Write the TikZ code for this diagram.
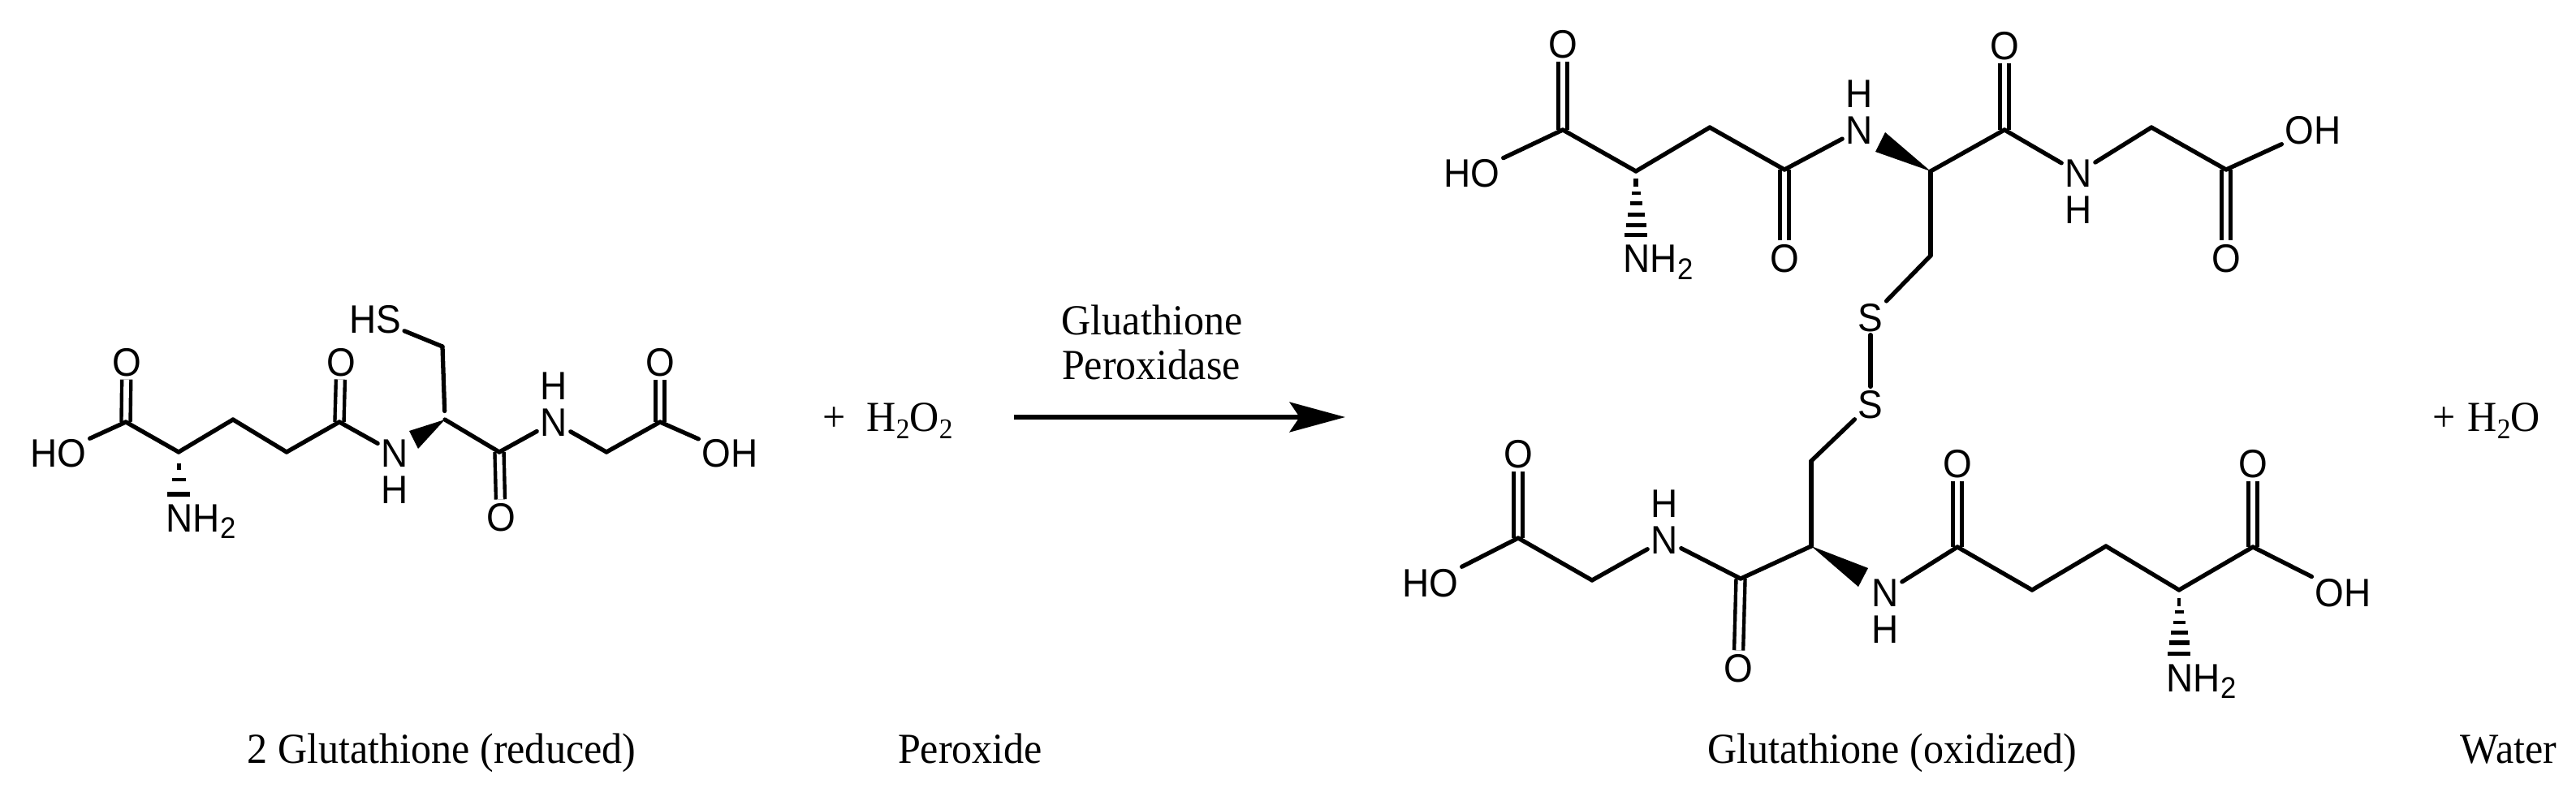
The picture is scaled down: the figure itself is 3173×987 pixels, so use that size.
\documentclass[tikz,border=0pt]{standalone}
\usepackage{fontspec}
\setmainfont[FakeStretch=0.95]{Liberation Serif}
\newfontfamily\atomfont[FakeStretch=0.94]{Liberation Sans}
\usepackage{tikz}
\usetikzlibrary{calc, positioning, arrows.meta}
\newcommand{\atomsub}{{\fontsize{10.5}{10}\selectfont\raisebox{-2.3pt}{2}}}
\newcommand{\textsub}{{\fontsize{10}{10}\selectfont\raisebox{-2.3pt}{2}}}

\begin{document}
\begin{tikzpicture}[x=0.1mm, y=-0.1mm, line cap=round, >=Stealth]
\tikzstyle{atom}=[inner sep=1pt,text height=9.9pt,text depth=0pt,font=\atomfont\fontsize{13.9}{15}\selectfont]
\tikzstyle{amine}=[inner sep=0pt,anchor=base west,font=\atomfont\fontsize{13.9}{15}\selectfont]
\tikzstyle{label}=[inner sep=0pt,anchor=base,font=\fontsize{15}{15.6}\selectfont]
\tikzstyle{bond}=[line width=1.5pt]
\tikzstyle{dbond}=[line width=1.25pt,double,double distance=1.9pt,line cap=butt]
\useasboundingbox (0,0) rectangle (3173,987);

% left molecule
\coordinate (la) at (155,520);
\coordinate (lb) at (220,557);
\coordinate (lc) at (287,517);
\coordinate (ld) at (353,557);
\coordinate (le) at (418,520);
\coordinate (lf) at (548,517);
\coordinate (lg) at (545,427);
\coordinate (lh) at (615,557);
\coordinate (li) at (747,557);
\coordinate (lj) at (813,520);
\coordinate (lwa) at (504,531);
\coordinate (lwb) at (515,553);
\node[atom] (lo1) at (156,446) {O};
\node[atom] (lo2) at (420,446) {O};
\node[atom] (lo3) at (617,637) {O};
\node[atom] (lo4) at (813,446) {O};
\node[atom] (lho) at (72,558) {HO};
\node[atom] (loh) at (899,558) {OH};
\node[atom] (lhs) at (462,393) {HS};
\node[atom] (ln1) at (486,558) {N};
\node[atom] (lh1)[below=0.5pt of ln1] {H};
\node[atom] (ln2) at (682,520) {N};
\node[atom] (lh2)[above=0.5pt of ln2] {H};
\node[amine] (lnh) at (204,655) {NH\atomsub};
\path
(la) edge[dbond] (lo1)
(le) edge[dbond] (lo2)
(lh) edge[dbond] (lo3)
(lj) edge[dbond] (lo4);
\path[bond]
(lho) edge (la)
(la) edge (lb)
(lb) edge (lc)
(lc) edge (ld)
(ld) edge (le)
(le) edge (ln1)
(lg) edge[shorten >=3pt] (lf)
(lg) edge (lhs)
(lf) edge (lh)
(lh) edge (ln2)
(ln2) edge (li)
(li) edge (lj)
(lj) edge (loh);
\fill (lf) -- (lwa) -- (lwb) -- cycle;
\foreach \d/\w/\h in {14/5/8,32/17/4,49/28/6}
    \fill ($(lb)+(-\w/2,\d)$) rectangle ++(\w,\h);

% reaction
\node[label] (plusa) at (1028,532) {+};
\node[label,anchor=base west] (peroxide) at (1067,532) {H\textsub O\textsub};
\coordinate (start) at (1249,514);
\coordinate (stop) at (1657,514);
\draw[->,line width=1.45pt,>={Stealth[length=19.5pt,width=10.5pt,inset=3.5pt]},line cap=butt] (start) -- (stop);
\node[label] (enza) at (1419,413) {Gluathione};
\node[label] (enzb) at (1418,468) {Peroxidase};

% upper half of oxidized molecule
\coordinate (ua) at (1925,160);
\coordinate (ub) at (2015,211);
\coordinate (uc) at (2106,157);
\coordinate (ud) at (2198,209);
\coordinate (ue) at (2378,211);
\coordinate (uf) at (2469,160);
\coordinate (ug) at (2650,157);
\coordinate (uh) at (2742,209);
\coordinate (ui) at (2378,315);
\coordinate (uwa) at (2322,163);
\coordinate (uwb) at (2310,187);
\node[atom] (uo1) at (1925,54) {O};
\node[atom] (uo2) at (2198,318) {O};
\node[atom] (uo3) at (2469,56) {O};
\node[atom] (uo4) at (2742,318) {O};
\node[atom] (uho) at (1813,213) {HO};
\node[atom] (uoh) at (2849,160) {OH};
\node[atom] (un1) at (2290,160) {N};
\node[atom] (uh1)[above=0.5pt of un1] {H};
\node[atom] (un2) at (2560,213) {N};
\node[atom] (uh2)[below=0.5pt of un2] {H};
\node[amine] (unh) at (1999,336) {NH\atomsub};
\node[atom] (su) at (2304,391) {S};
\path
(ua) edge[dbond] (uo1)
(ud) edge[dbond] (uo2)
(uf) edge[dbond] (uo3)
(uh) edge[dbond] (uo4);
\path[bond]
(uho) edge (ua)
(ua) edge (ub)
(ub) edge (uc)
(uc) edge (ud)
(ud) edge (un1)
(ue) edge (uf)
(uf) edge (un2)
(un2) edge (ug)
(ug) edge (uh)
(uh) edge (uoh)
(ue) edge (ui)
(ui) edge (su);
\fill (ue) -- (uwa) -- (uwb) -- cycle;
\foreach \d/\w/\h in {9/6/10,25/11/4,37/15/5,51/21/5,64/25/5,76/28/5}
    \fill ($(ub)+(-\w/2,\d)$) rectangle ++(\w,\h);

% lower half of oxidized molecule
\node[atom] (sl) at (2304,498) {S};
\coordinate (da) at (2231,568);
\coordinate (db) at (2231,673);
\coordinate (dc) at (2144,713);
\coordinate (dd) at (1961,715);
\coordinate (de) at (1870,663);
\coordinate (df) at (2411,674);
\coordinate (dg) at (2503,727);
\coordinate (dh) at (2594,673);
\coordinate (di) at (2684,727);
\coordinate (dj) at (2775,674);
\coordinate (dwa) at (2301,700);
\coordinate (dwb) at (2289,723);
\node[atom] (do1) at (2141,823) {O};
\node[atom] (do2) at (1870,559) {O};
\node[atom] (do3) at (2411,571) {O};
\node[atom] (do4) at (2775,571) {O};
\node[atom] (dho) at (1762,718) {HO};
\node[atom] (doh) at (2886,730) {OH};
\node[atom] (dn1) at (2050,665) {N};
\node[atom] (dh1)[above=0.5pt of dn1] {H};
\node[atom] (dn2) at (2322,730) {N};
\node[atom] (dh2)[below=0.5pt of dn2] {H};
\node[amine] (dnh) at (2668,852) {NH\atomsub};
\path
(dc) edge[dbond] (do1)
(de) edge[dbond] (do2)
(df) edge[dbond] (do3)
(dj) edge[dbond] (do4);
\path[bond]
(su) edge (sl)
(sl) edge (da)
(da) edge (db)
(db) edge (dc)
(dc) edge (dn1)
(dn1) edge (dd)
(dd) edge (de)
(de) edge (dho)
(dn2) edge (df)
(df) edge (dg)
(dg) edge (dh)
(dh) edge (di)
(di) edge (dj)
(dj) edge (doh);
\fill (db) -- (dwa) -- (dwb) -- cycle;
\foreach \d/\w/\h in {10/4/10,25/11/4,38/15/4,50/21/5,62/25/6,76/28/5}
    \fill ($(di)+(-\w/2,\d)$) rectangle ++(\w,\h);

% right hand side and captions
\node[label] (plusb) at (3011,532) {+};
\node[label,anchor=base west] (water) at (3039,532) {H\textsub O};
\node[label] (capa) at (544,940) {2 Glutathione (reduced)};
\node[label] (capb) at (1195,940) {Peroxide};
\node[label] (capc) at (2331,940) {Glutathione (oxidized)};
\node[label] (capd) at (3090,940) {Water};
\end{tikzpicture}
\end{document}
